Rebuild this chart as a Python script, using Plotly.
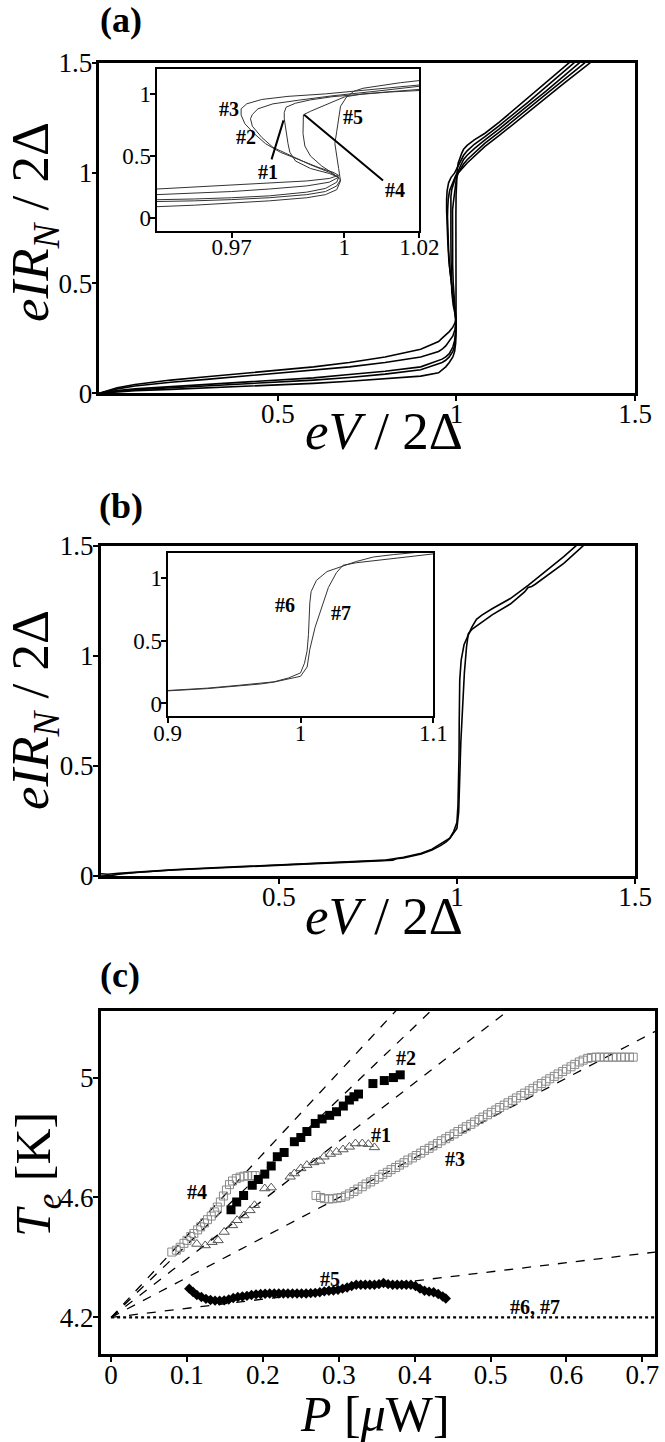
import plotly.graph_objects as go

FONT = "Liberation Serif"

# ---- (a) I-V curves of junctions #1..#5, (eV/2Δ, eIR_N/2Δ) pairs ----
IV_1 = [(0, 0), (0.02, 0.005), (0.05, 0.012), (0.1, 0.02), (0.2, 0.03), (0.3, 0.04), (0.4, 0.05),
        (0.5, 0.06), (0.6, 0.07), (0.7, 0.085), (0.8, 0.1), (0.9, 0.12), (0.95, 0.147), (0.96, 0.155),
        (0.97, 0.165), (0.98, 0.18), (0.99, 0.21), (0.995, 0.24), (0.998, 0.29), (0.9985, 0.33),
        (0.996, 0.36), (0.991, 0.4), (0.987, 0.46), (0.9855, 0.53), (0.985, 0.6), (0.9845, 0.7),
        (0.984, 0.8), (0.984, 0.85), (0.9845, 0.893), (0.987, 0.925), (0.991, 0.952), (0.997, 0.978),
        (1.005, 1.0), (1.012, 1.015), (1.02, 1.027), (1.03, 1.045), (1.05, 1.075), (1.08, 1.12),
        (1.12, 1.17), (1.2, 1.275), (1.25, 1.34), (1.3, 1.405), (1.375, 1.5)]
IV_2 = [(0, 0), (0.02, 0.008), (0.05, 0.02), (0.1, 0.033), (0.2, 0.05), (0.3, 0.063), (0.4, 0.077),
        (0.5, 0.09), (0.6, 0.105), (0.7, 0.12), (0.8, 0.14), (0.9, 0.165), (0.95, 0.19), (0.96, 0.2),
        (0.97, 0.215), (0.98, 0.235), (0.99, 0.26), (0.996, 0.29), (0.9985, 0.33), (0.996, 0.37),
        (0.991, 0.43), (0.986, 0.5), (0.981, 0.57), (0.978, 0.65), (0.9755, 0.74), (0.975, 0.8),
        (0.9755, 0.835), (0.977, 0.88), (0.981, 0.92), (0.988, 0.95), (0.997, 0.985), (1.008, 1.02),
        (1.02, 1.061), (1.03, 1.08), (1.05, 1.11), (1.08, 1.15), (1.12, 1.2), (1.2, 1.305),
        (1.25, 1.37), (1.345, 1.5)]
IV_3 = [(0, 0), (0.02, 0.01), (0.05, 0.025), (0.1, 0.04), (0.2, 0.06), (0.3, 0.075), (0.4, 0.09),
        (0.5, 0.105), (0.6, 0.12), (0.7, 0.14), (0.8, 0.165), (0.9, 0.2), (0.95, 0.235), (0.96, 0.25),
        (0.97, 0.265), (0.98, 0.28), (0.99, 0.3), (0.996, 0.32), (0.9985, 0.345), (0.997, 0.37),
        (0.993, 0.41), (0.988, 0.47), (0.983, 0.53), (0.979, 0.6), (0.976, 0.68), (0.9735, 0.76),
        (0.9725, 0.83), (0.9725, 0.88), (0.974, 0.92), (0.978, 0.955), (0.985, 0.98), (0.995, 1.0),
        (1.005, 1.03), (1.02, 1.08), (1.03, 1.1), (1.05, 1.13), (1.08, 1.165), (1.12, 1.215),
        (1.2, 1.32), (1.25, 1.39), (1.33, 1.5)]
IV_4 = [(0, 0), (0.02, 0.004), (0.05, 0.01), (0.1, 0.016), (0.2, 0.025), (0.3, 0.033), (0.4, 0.041),
        (0.5, 0.05), (0.6, 0.06), (0.7, 0.072), (0.8, 0.087), (0.9, 0.107), (0.95, 0.133), (0.96, 0.14),
        (0.97, 0.15), (0.98, 0.165), (0.99, 0.19), (0.995, 0.215), (0.998, 0.26), (0.999, 0.31),
        (0.997, 0.36), (0.994, 0.42), (0.991, 0.5), (0.9895, 0.58), (0.989, 0.68), (0.989, 0.78),
        (0.9891, 0.832), (0.991, 0.86), (0.994, 0.9), (0.997, 0.94), (1.0, 0.975), (1.005, 1.0),
        (1.012, 1.02), (1.02, 1.04), (1.03, 1.06), (1.05, 1.09), (1.08, 1.135), (1.12, 1.185),
        (1.2, 1.29), (1.25, 1.355), (1.36, 1.5)]
IV_5 = [(0, 0), (0.02, 0.003), (0.05, 0.007), (0.1, 0.012), (0.2, 0.018), (0.3, 0.024), (0.4, 0.03),
        (0.5, 0.037), (0.6, 0.045), (0.7, 0.055), (0.8, 0.065), (0.9, 0.078), (0.95, 0.093), (0.96, 0.105),
        (0.97, 0.12), (0.98, 0.14), (0.99, 0.165), (0.995, 0.19), (0.998, 0.23), (0.999, 0.3),
        (0.9985, 0.4), (0.998, 0.5), (0.9975, 0.6), (0.998, 0.7), (0.9985, 0.8), (0.999, 0.9),
        (1.0005, 0.97), (1.0025, 1.02), (1.005, 1.045), (1.01, 1.07), (1.015, 1.09), (1.02, 1.107),
        (1.03, 1.125), (1.05, 1.15), (1.08, 1.18), (1.12, 1.23), (1.2, 1.34), (1.25, 1.41), (1.316, 1.5)]

# ---- (b) I-V curves of junctions #6 and #7 ----
IV_6 = [(0, 0.01), (0.02, 0.008), (0.05, 0.012), (0.1, 0.018), (0.2, 0.028), (0.3, 0.036), (0.4, 0.043),
        (0.5, 0.05), (0.6, 0.057), (0.7, 0.064), (0.8, 0.072), (0.85, 0.085), (0.9, 0.103), (0.93, 0.122),
        (0.954, 0.145), (0.97, 0.16), (0.98, 0.172), (0.991, 0.203), (1.0, 0.243), (1.003, 0.32),
        (1.005, 0.42), (1.006, 0.55), (1.0065, 0.7), (1.007, 0.8), (1.008, 0.89), (1.012, 0.98),
        (1.02, 1.05), (1.03, 1.087), (1.042, 1.13), (1.055, 1.166), (1.07, 1.185), (1.1, 1.215),
        (1.15, 1.26), (1.2, 1.32), (1.25, 1.385), (1.3, 1.45), (1.335, 1.5)]
IV_7 = [(0, 0.0), (0.03, 0.002), (0.05, 0.008), (0.1, 0.016), (0.2, 0.027), (0.3, 0.035), (0.4, 0.042),
        (0.5, 0.049), (0.6, 0.056), (0.7, 0.063), (0.8, 0.07), (0.82, 0.072), (0.83, 0.078), (0.85, 0.082),
        (0.9, 0.1), (0.93, 0.118), (0.954, 0.138), (0.97, 0.155), (0.98, 0.17), (0.991, 0.195),
        (1.0, 0.216), (1.005, 0.29), (1.007, 0.43), (1.011, 0.607), (1.016, 0.765), (1.021, 0.923),
        (1.027, 1.04), (1.032, 1.1), (1.042, 1.12), (1.067, 1.148), (1.1, 1.187), (1.15, 1.235),
        (1.19, 1.29), (1.2, 1.31), (1.21, 1.315), (1.22, 1.325), (1.25, 1.36), (1.3, 1.42), (1.355, 1.5)]

# ---- (c) electron temperature Te [K] vs. dissipated power P [uW] ----
P_1 = [0.113, 0.124, 0.133, 0.141, 0.149, 0.160, 0.166, 0.175, 0.183, 0.189, 0.2025, 0.211, 0.236,
       0.2415, 0.250, 0.258, 0.267, 0.275, 0.2805, 0.289, 0.297, 0.3056, 0.314, 0.322, 0.331, 0.339, 0.347]
TE_1 = [4.445, 4.44, 4.451, 4.457, 4.485, 4.507, 4.524, 4.540, 4.557, 4.574, 4.630, 4.633, 4.669,
        4.68, 4.697, 4.708, 4.717, 4.722, 4.736, 4.745, 4.752, 4.76, 4.769, 4.78, 4.78, 4.778, 4.767]

P_2 = [0.158, 0.1655, 0.1746, 0.186, 0.194, 0.2025, 0.211, 0.219, 0.228, 0.2415, 0.250, 0.258,
       0.269, 0.278, 0.288, 0.297, 0.306, 0.314, 0.320, 0.326, 0.345, 0.360, 0.372, 0.381]
TE_2 = [4.559, 4.585, 4.607, 4.641, 4.660, 4.678, 4.705, 4.736, 4.750, 4.786, 4.800, 4.820,
        4.847, 4.862, 4.874, 4.886, 4.905, 4.925, 4.936, 4.945, 4.980, 4.990, 5.000, 5.009]

P_3 = [0.270, 0.276, 0.281, 0.287, 0.292, 0.298, 0.303, 0.309, 0.314, 0.320, 0.325, 0.331, 0.336,
       0.342, 0.347, 0.353, 0.358, 0.364, 0.369, 0.375, 0.380, 0.386, 0.391, 0.397, 0.402, 0.408,
       0.413, 0.419, 0.424, 0.430, 0.435, 0.441, 0.446, 0.452, 0.457, 0.463, 0.468, 0.474, 0.479,
       0.485, 0.490, 0.496, 0.501, 0.507, 0.512, 0.518, 0.523, 0.529, 0.534, 0.540, 0.545, 0.551,
       0.556, 0.562, 0.567, 0.573, 0.578, 0.584, 0.589, 0.595, 0.600, 0.606, 0.611, 0.617, 0.622,
       0.628, 0.633, 0.639, 0.644, 0.650, 0.655, 0.661, 0.666, 0.672, 0.677, 0.683, 0.688]
TE_3 = [4.607, 4.600, 4.596, 4.595, 4.596, 4.598, 4.600, 4.605, 4.612, 4.620, 4.628, 4.636, 4.645,
        4.652, 4.660, 4.668, 4.677, 4.684, 4.693, 4.700, 4.708, 4.716, 4.725, 4.732, 4.740, 4.748,
        4.757, 4.764, 4.772, 4.780, 4.789, 4.796, 4.804, 4.812, 4.820, 4.828, 4.836, 4.844, 4.852,
        4.860, 4.868, 4.876, 4.884, 4.892, 4.900, 4.908, 4.916, 4.924, 4.932, 4.940, 4.948, 4.956,
        4.964, 4.972, 4.980, 4.988, 4.996, 5.004, 5.012, 5.020, 5.028, 5.036, 5.044, 5.052, 5.058,
        5.064, 5.067, 5.068, 5.068, 5.068, 5.068, 5.068, 5.068, 5.068, 5.068, 5.068, 5.068]

P_4 = [0.080, 0.086, 0.091, 0.096, 0.100, 0.105, 0.109, 0.114, 0.118, 0.123, 0.127, 0.132, 0.136,
       0.140, 0.144, 0.148, 0.152, 0.156, 0.160, 0.165, 0.170, 0.175, 0.180, 0.186, 0.190]
TE_4 = [4.418, 4.424, 4.434, 4.447, 4.457, 4.470, 4.480, 4.492, 4.502, 4.515, 4.526, 4.538, 4.552,
        4.568, 4.585, 4.605, 4.625, 4.643, 4.655, 4.663, 4.668, 4.671, 4.673, 4.673, 4.673]

P_5 = [0.103, 0.108, 0.113, 0.119, 0.125, 0.131, 0.137, 0.143, 0.149, 0.155, 0.161, 0.167, 0.173,
       0.179, 0.185, 0.191, 0.197, 0.203, 0.209, 0.215, 0.221, 0.227, 0.233, 0.239, 0.245, 0.251,
       0.257, 0.263, 0.269, 0.275, 0.281, 0.287, 0.293, 0.299, 0.305, 0.311, 0.317, 0.323, 0.329,
       0.335, 0.341, 0.347, 0.353, 0.359, 0.365, 0.371, 0.377, 0.383, 0.389, 0.395, 0.401, 0.407,
       0.413, 0.419, 0.425, 0.431, 0.437, 0.441]
TE_5 = [4.296, 4.285, 4.275, 4.268, 4.262, 4.258, 4.256, 4.256, 4.257, 4.260, 4.265, 4.268, 4.270,
        4.272, 4.275, 4.277, 4.278, 4.279, 4.280, 4.280, 4.280, 4.280, 4.280, 4.280, 4.280, 4.280,
        4.280, 4.281, 4.282, 4.284, 4.287, 4.289, 4.290, 4.292, 4.296, 4.300, 4.305, 4.309, 4.309,
        4.309, 4.309, 4.309, 4.311, 4.315, 4.311, 4.309, 4.309, 4.309, 4.309, 4.309, 4.305, 4.296,
        4.289, 4.286, 4.284, 4.278, 4.270, 4.263]

# dashed fits start at the bath temperature, end values read at P = 0.72
BATH_TE = 4.2
FIT_P = [0, 0.72]
FIT_TE_END = [6.162, 5.947, 5.608, 5.158, 4.419]

W, H = 665, 1442


def px_x(a, b):
    return [a / W, b / W]


def px_y(top, bottom):
    return [1 - bottom / H, 1 - top / H]


def axis(domain, rng, tickvals, ticktext, anchor, size, lw=2.5, standoff=-10):
    return dict(domain=domain, range=rng, anchor=anchor, showline=True, mirror=True,
                linecolor="black", linewidth=lw, ticks="outside", ticklen=5, tickwidth=2,
                tickcolor="black", tickvals=tickvals, ticktext=ticktext, showgrid=False,
                zeroline=False, fixedrange=True, automargin=False,
                ticklabelstandoff=standoff,
                tickfont=dict(family=FONT, size=size, color="black"))


def xs(curve):
    return [p[0] for p in curve]


def ys(curve):
    return [p[1] for p in curve]


fig = go.Figure()

# panel (a) main + inset
for curve in [IV_1, IV_2, IV_3, IV_4, IV_5]:
    fig.add_trace(go.Scatter(x=xs(curve), y=ys(curve), mode="lines", xaxis="x", yaxis="y",
                             line=dict(color="black", width=1.6), showlegend=False))
for curve in [IV_1, IV_2, IV_3, IV_4, IV_5]:
    fig.add_trace(go.Scatter(x=xs(curve), y=ys(curve), mode="lines", xaxis="x2", yaxis="y2",
                             line=dict(color="#333", width=1), showlegend=False))

# panel (b) main + inset
for curve in [IV_6, IV_7]:
    fig.add_trace(go.Scatter(x=xs(curve), y=ys(curve), mode="lines", xaxis="x3", yaxis="y3",
                             line=dict(color="black", width=1.6), showlegend=False))
for curve in [IV_6, IV_7]:
    fig.add_trace(go.Scatter(x=xs(curve), y=ys(curve), mode="lines", xaxis="x4", yaxis="y4",
                             line=dict(color="#333", width=1), showlegend=False))

# panel (c)
for end in FIT_TE_END:
    fig.add_trace(go.Scatter(x=FIT_P, y=[BATH_TE, end], mode="lines", xaxis="x5", yaxis="y5",
                             line=dict(color="black", width=1.3, dash="dash"), showlegend=False))
fig.add_trace(go.Scatter(x=FIT_P, y=[BATH_TE, BATH_TE], mode="lines", xaxis="x5", yaxis="y5",
                         line=dict(color="black", width=2.2, dash="dot"), showlegend=False))

sq_open = dict(symbol="square-open", size=8, color="#8a8a8a", line=dict(width=1))
fig.add_trace(go.Scatter(x=P_3, y=TE_3, mode="markers", xaxis="x5", yaxis="y5",
                         marker=sq_open, showlegend=False))
fig.add_trace(go.Scatter(x=P_4, y=TE_4, mode="markers", xaxis="x5", yaxis="y5",
                         marker=sq_open, showlegend=False))
fig.add_trace(go.Scatter(x=P_1, y=TE_1, mode="markers", xaxis="x5", yaxis="y5",
                         marker=dict(symbol="triangle-up-open", size=9, color="#555",
                                     line=dict(width=1)), showlegend=False))
fig.add_trace(go.Scatter(x=P_2, y=TE_2, mode="markers", xaxis="x5", yaxis="y5",
                         marker=dict(symbol="square", size=9, color="black"), showlegend=False))
fig.add_trace(go.Scatter(x=P_5, y=TE_5, mode="lines+markers", xaxis="x5", yaxis="y5",
                         line=dict(color="black", width=2),
                         marker=dict(symbol="diamond", size=8, color="black"), showlegend=False))

layout_axes = dict(
    xaxis=axis(px_x(99.3, 635), [0, 1.5], [0.5, 1, 1.5], ["0.5", "1", "1.5"], "y", 27),
    yaxis=axis(px_y(62.7, 393.3), [0, 1.5], [0, 0.5, 1, 1.5], ["0", "0.5", "1", "1.5"], "x", 27,
               standoff=-6),
    xaxis2=axis(px_x(156.7, 419.3), [0.95, 1.02], [0.97, 1, 1.02], ["0.97", "1", "1.02"], "y2",
                23, 2),
    yaxis2=axis(px_y(69, 230.7), [-0.1, 1.2], [0, 0.5, 1], ["0", "0.5", "1"], "x2", 23, 2,
                standoff=-6),
    xaxis3=axis(px_x(100.7, 635), [0, 1.5], [0.5, 1, 1.5], ["0.5", "1", "1.5"], "y3", 27),
    yaxis3=axis(px_y(545.7, 876), [0, 1.5], [0, 0.5, 1, 1.5], ["0", "0.5", "1", "1.5"], "x3", 27,
                standoff=-6),
    xaxis4=axis(px_x(167.7, 433.3), [0.9, 1.1], [0.9, 1, 1.1], ["0.9", "1", "1.1"], "y4", 23, 2),
    yaxis4=axis(px_y(552.7, 716), [-0.1, 1.2], [0, 0.5, 1], ["0", "0.5", "1"], "x4", 23, 2,
                standoff=-6),
    xaxis5=axis(px_x(100.7, 655), [-0.0137, 0.7167], [0, 0.1, 0.2, 0.3, 0.4, 0.5, 0.6, 0.7],
                ["0", "0.1", "0.2", "0.3", "0.4", "0.5", "0.6", "0.7"], "y5", 27),
    yaxis5=axis(px_y(1010.7, 1354.3), [4.077, 5.223], [4.2, 4.6, 5], ["4.2", "4.6", "5"], "x5", 27,
                standoff=-6),
)


def paper_text(text, x, y, size, angle=0):
    return dict(text=text, x=x / W, y=1 - y / H, xref="paper", yref="paper", showarrow=False,
                xanchor="center", yanchor="middle", textangle=angle,
                font=dict(family=FONT, size=size, color="black"))


def data_text(text, x, y, ax, size=20):
    return dict(text="<b>" + text + "</b>", x=x, y=y, xref=ax[0], yref=ax[1], showarrow=False,
                xanchor="center", yanchor="middle",
                font=dict(family=FONT, size=size, color="black"))


def pointer(text, x, y, tx, ty, ax):
    return dict(text="<b>" + text + "</b>", x=x, y=y, ax=tx, ay=ty, xref=ax[0], yref=ax[1],
                axref=ax[0], ayref=ax[1], showarrow=True, arrowhead=0, arrowwidth=2,
                arrowcolor="black", font=dict(family=FONT, size=20, color="black"))


ylab = "<i>eIR</i><sub><i>N</i></sub> / 2Δ"
xlab = "<i>eV</i> / 2Δ"

annotations = [
    paper_text("<b>(a)</b>", 121, 20, 36),
    paper_text("<b>(b)</b>", 121, 506, 36),
    paper_text("<b>(c)</b>", 120, 975, 36),
    paper_text(ylab, 34, 222, 53, -90),
    paper_text(xlab, 384, 431, 53),
    paper_text(ylab, 34, 710, 53, -90),
    paper_text(xlab, 384, 916, 53),
    paper_text("<i>T</i><sub><i>e</i></sub> [K]", 37, 1175, 50, -90),
    paper_text("<i>P</i> [<i>μ</i>W]", 375, 1414, 50),
    data_text("#3", 0.9694, 0.88, ("x2", "y2")),
    data_text("#2", 0.9738, 0.653, ("x2", "y2")),
    data_text("#5", 1.0022, 0.813, ("x2", "y2")),
    pointer("#1", 0.9838, 0.787, 0.9796, 0.373, ("x2", "y2")),
    pointer("#4", 0.9893, 0.832, 1.0134, 0.227, ("x2", "y2")),
    data_text("#6", 0.9883, 0.784, ("x4", "y4")),
    data_text("#7", 1.0305, 0.718, ("x4", "y4")),
    data_text("#2", 0.389, 5.065, ("x5", "y5")),
    data_text("#1", 0.356, 4.808, ("x5", "y5")),
    data_text("#3", 0.453, 4.727, ("x5", "y5")),
    data_text("#4", 0.113, 4.618, ("x5", "y5")),
    data_text("#5", 0.289, 4.328, ("x5", "y5")),
    data_text("#6, #7", 0.559, 4.236, ("x5", "y5")),
]

fig.update_layout(
    width=W, height=H,
    margin=dict(l=0, r=0, t=0, b=0),
    paper_bgcolor="white", plot_bgcolor="white",
    showlegend=False,
    annotations=annotations,
    **layout_axes,
)

# the page body has an 8px default margin; drop it so the figure fills the window
fig.write_html("out.html", config={"displayModeBar": False},
               post_script="document.body.style.margin = '0px';")
